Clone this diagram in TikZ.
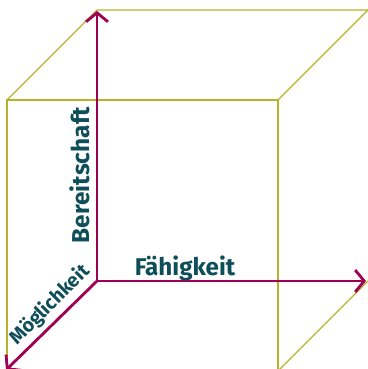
\documentclass[tikz,border=0pt]{standalone}
\usepackage{fontspec}
\setmainfont{Fira Sans}
\usetikzlibrary{arrows.meta}
\definecolor{olive}{RGB}{184,178,42}
\definecolor{axis}{RGB}{160,0,82}
\definecolor{teal}{RGB}{14,78,90}
\tikzset{
  edge/.style={draw=olive, line width=1.2pt},
  axisarrow/.style={draw=axis, line width=2.8pt, -{Straight Barb[length=9pt,width=22pt,line width=2.8pt]}},
  lab/.style={text=teal, inner sep=0pt}
}
\begin{document}
\begin{tikzpicture}[x=1pt,y=-1pt]
\useasboundingbox (0,0) rectangle (367,369);
% cube corners
\coordinate (F1) at (7,100);
\coordinate (F2) at (278,100);
\coordinate (F3) at (278,371);
\coordinate (F4) at (7,371);
\coordinate (B1) at (97,10);
\coordinate (B2) at (368,10);
\coordinate (B3) at (368,281);
\coordinate (O) at (97,281);
\coordinate (X) at (366,281);
\coordinate (Y) at (97,11);
\coordinate (Z) at (6,370);
% cube edges
\draw[edge] (F1) -- (F2) -- (F3) -- (F4) -- cycle;
\draw[edge] (F1) -- (B1) -- (B2) -- (F2);
\draw[edge] (F3) -- (B3);
% axes
\draw[axisarrow] (O) -- (Y);
\draw[axisarrow] (O) -- (X);
\draw[axisarrow] (O) -- (Z);
% labels
\node[lab, anchor=base, font=\fontsize{24.2}{24}\selectfont\bfseries] (fa) at (185,275) {Fähigkeit};
\node[lab, anchor=base, rotate=90, font=\fontsize{24.4}{24}\selectfont\bfseries] (be) at (89,175) {Bereitschaft};
\node[lab, anchor=base, rotate=45, font=\fontsize{19.5}{19}\selectfont\bfseries] (mo) at (54,309) {Möglichkeit};
\end{tikzpicture}
\end{document}
